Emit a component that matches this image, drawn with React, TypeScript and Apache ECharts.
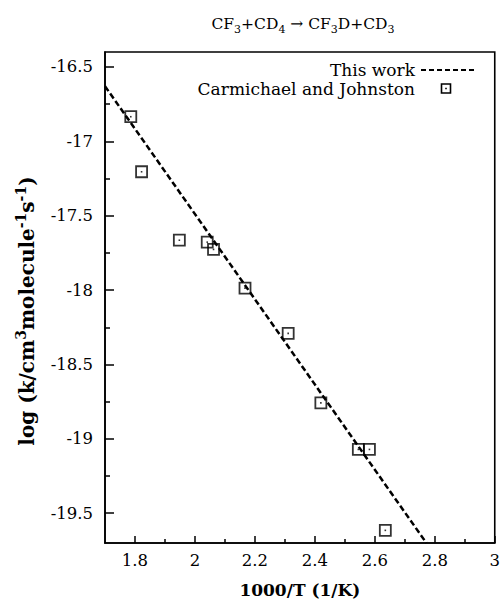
import React, { useEffect, useRef } from "react";
import * as echarts from "echarts";

// Measured rate constants (Carmichael and Johnston): 1000/T vs log k
const expX = [1.786, 1.822, 1.948, 2.041, 2.062, 2.167, 2.311, 2.42, 2.545, 2.582, 2.635];
const expY = [-16.835, -17.205, -17.665, -17.678, -17.727, -17.987, -18.291, -18.758, -19.071, -19.071, -19.615];

// Fitted Arrhenius line ("This work"), end points
const fitX = [1.7, 2.772];
const fitY = [-16.63, -19.7];

// Tick positions
const xMajor = [1.8, 2.0, 2.2, 2.4, 2.6, 2.8, 3.0];
const xMinor = [1.9, 2.1, 2.3, 2.5, 2.7, 2.9];
const yMajor = [-16.5, -17, -17.5, -18, -18.5, -19, -19.5];
const yMinor = [-16.75, -17.25, -17.75, -18.25, -18.75, -19.25];

const FONT = "'DejaVu Serif', 'Liberation Serif', serif";

export default function App() {
  const ref = useRef<HTMLDivElement>(null);

  useEffect(() => {
    if (!ref.current) return;
    const chart = echarts.init(ref.current, undefined, { renderer: "svg" });

    const expData = expX.map((x, i) => [x, expY[i]]);
    const fitData = fitX.map((x, i) => [x, fitY[i]]);

    const baseX = {
      type: "value",
      min: 1.7,
      max: 3.0,
      gridIndex: 0,
      splitLine: { show: false },
    };
    const baseY = {
      type: "value",
      min: -19.7,
      max: -16.4,
      gridIndex: 0,
      splitLine: { show: false },
    };

    chart.setOption({
      animation: false,
      backgroundColor: "#fff",
      grid: {
        left: 105,
        top: 52,
        right: 7,
        bottom: 57,
        show: true,
        borderColor: "#000",
        borderWidth: 1.6,
        backgroundColor: "transparent",
      },
      xAxis: [
        {
          ...baseX,
          axisLine: { show: true, onZero: false, lineStyle: { color: "#000", width: 1.6 } },
          axisTick: { show: true, inside: true, length: 7, customValues: xMajor, lineStyle: { color: "#000", width: 1.5 } },
          axisLabel: {
            show: true,
            customValues: xMajor,
            margin: 9,
            color: "#000",
            fontFamily: FONT,
            fontSize: 16.5,
            formatter: (v: number) => String(Math.round(v * 10) / 10),
          },
          name: "1000/T (1/K)",
          nameLocation: "middle",
          nameGap: 38,
          nameTextStyle: { color: "#000", fontFamily: FONT, fontSize: 17, fontWeight: "bold" },
        },
        {
          ...baseX,
          position: "bottom",
          axisLine: { show: false },
          axisTick: { show: true, inside: true, length: 4, customValues: xMinor, lineStyle: { color: "#000", width: 1.5 } },
          axisLabel: { show: false },
        },
      ],
      yAxis: [
        {
          ...baseY,
          axisLine: { show: true, onZero: false, lineStyle: { color: "#000", width: 1.6 } },
          axisTick: { show: true, inside: true, length: 9, customValues: yMajor, lineStyle: { color: "#000", width: 1.5 } },
          axisLabel: {
            show: true,
            customValues: yMajor,
            margin: 12,
            color: "#000",
            fontFamily: FONT,
            fontSize: 16.5,
          },
        },
        {
          ...baseY,
          position: "left",
          axisLine: { show: false },
          axisTick: { show: true, inside: true, length: 5, customValues: yMinor, lineStyle: { color: "#000", width: 1.5 } },
          axisLabel: { show: false },
        },
      ],
      graphic: [
        {
          type: "text",
          x: 303,
          y: 24,
          style: {
            text: "{m|CF}{s|3}{m|+CD}{s|4}{m| → CF}{s|3}{m|D+CD}{s|3}",
            align: "center",
            verticalAlign: "middle",
            rich: {
              m: { fontFamily: FONT, fontSize: 15.5, fill: "#000", lineHeight: 22, verticalAlign: "middle" },
              s: { fontFamily: FONT, fontSize: 11, fill: "#000", lineHeight: 12, verticalAlign: "bottom" },
            },
          },
        },
        {
          type: "text",
          x: 27,
          y: 311,
          rotation: Math.PI / 2,
          style: {
            text: "{m|log (k/cm}{p|3}{m|molecule}{p|-1}{m|s}{p|-1}{m|)}",
            align: "center",
            verticalAlign: "middle",
            rich: {
              m: { fontFamily: FONT, fontSize: 20, fontWeight: "bold", fill: "#000", lineHeight: 26, verticalAlign: "middle" },
              p: { fontFamily: FONT, fontSize: 14, fontWeight: "bold", fill: "#000", lineHeight: 13, verticalAlign: "top" },
            },
          },
        },
        // legend
        {
          type: "text",
          x: 415,
          y: 70,
          style: { text: "This work", align: "right", verticalAlign: "middle", fontFamily: FONT, fontSize: 17, fill: "#000" },
        },
        {
          type: "text",
          x: 415,
          y: 89,
          style: { text: "Carmichael and Johnston", align: "right", verticalAlign: "middle", fontFamily: FONT, fontSize: 17, fill: "#000" },
        },
        {
          type: "line",
          shape: { x1: 421, y1: 70, x2: 475, y2: 70 },
          style: { stroke: "#000", lineWidth: 2.2, lineDash: [5, 3] },
        },
        {
          type: "rect",
          shape: { x: 441.5, y: 84, width: 9, height: 9 },
          style: { fill: "none", stroke: "#000", lineWidth: 1.6 },
        },
        {
          type: "rect",
          shape: { x: 445.2, y: 87.7, width: 1.6, height: 1.6 },
          style: { fill: "#000" },
        },
      ],
      series: [
        {
          name: "This work",
          type: "line",
          xAxisIndex: 0,
          yAxisIndex: 0,
          data: fitData,
          symbol: "none",
          clip: true,
          lineStyle: { color: "#000", width: 2.5, type: [6, 3] },
          z: 2,
        },
        {
          name: "Carmichael and Johnston",
          type: "scatter",
          xAxisIndex: 0,
          yAxisIndex: 0,
          data: expData,
          symbol: "rect",
          symbolSize: 11,
          itemStyle: { color: "transparent", borderColor: "#000", borderWidth: 1.8 },
          z: 3,
        },
        {
          name: "centre",
          type: "scatter",
          xAxisIndex: 0,
          yAxisIndex: 0,
          data: expData,
          symbol: "rect",
          symbolSize: 1.6,
          itemStyle: { color: "#000" },
          z: 4,
        },
      ],
    });

    return () => chart.dispose();
  }, []);

  return <div ref={ref} style={{ width: 503, height: 603, position: "absolute", left: 0, top: 0 }} />;
}
